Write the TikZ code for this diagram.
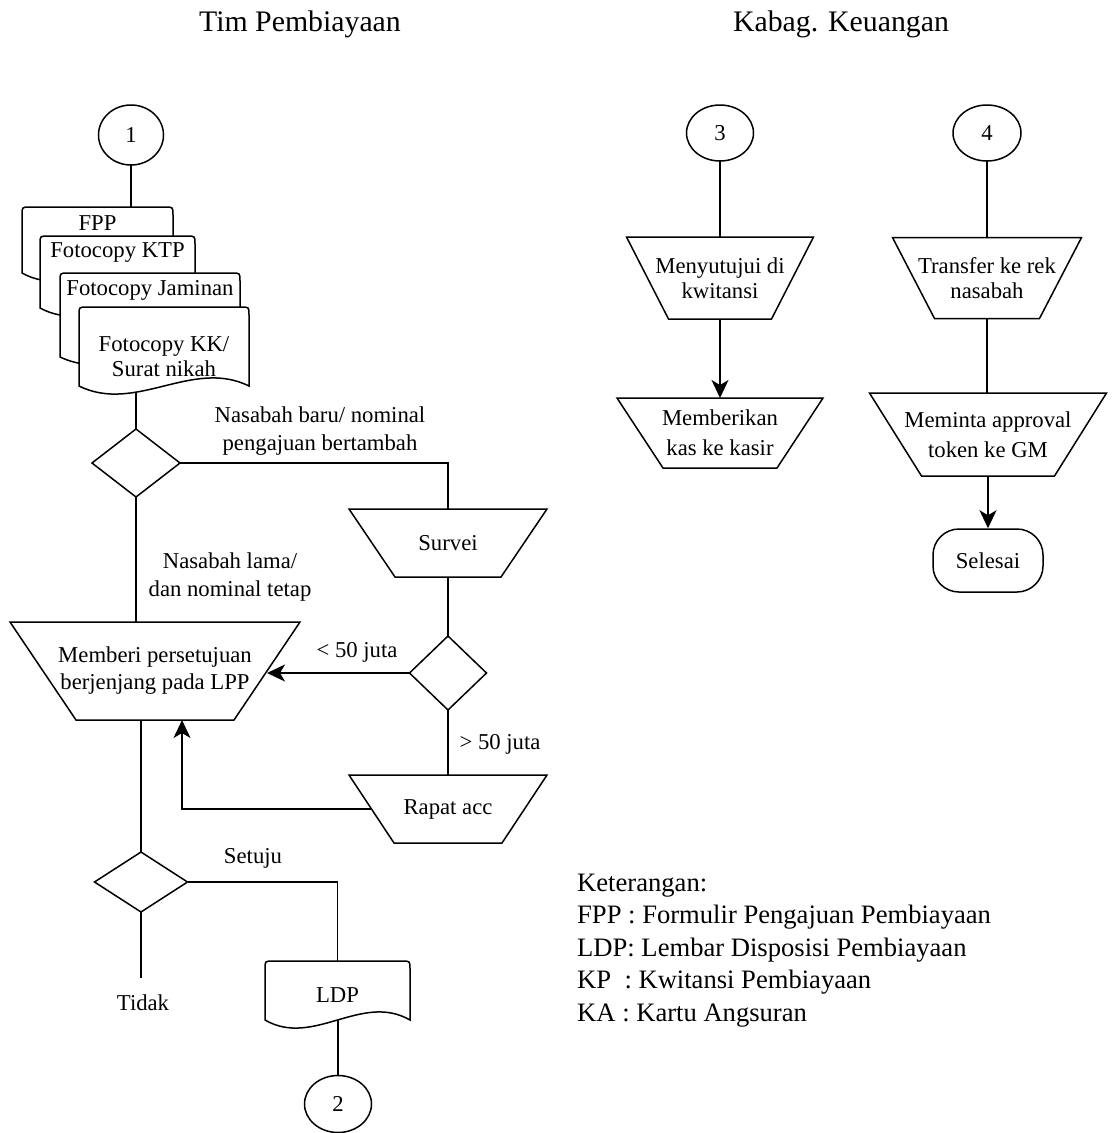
\documentclass[tikz,border=0pt]{standalone}
\usepackage{fontspec}
\setmainfont{Liberation Serif}
\usetikzlibrary{shapes.geometric,calc,arrows.meta}

\tikzset{
  shapeline/.style={draw=black, line width=1.5pt, line join=miter},
  conn/.style={draw=black, line width=1.5pt},
  arr/.style={conn, -{Stealth[length=18pt,width=17pt,inset=5pt]}},
  txt/.style={font=\fontsize{22.7pt}{27pt}\selectfont, align=center, inner sep=0pt},
  frame/.style={rectangle, draw=none, inner sep=0pt, outer sep=0pt},
  ttl/.style={font=\fontsize{29.8pt}{36pt}\selectfont, inner sep=0pt},
  leg/.style={font=\fontsize{26.6pt}{32pt}\selectfont, inner sep=0pt, anchor=base west},
  dec/.style={diamond, shapeline, inner sep=0pt, outer sep=0pt},
  con/.style={ellipse, shapeline, inner sep=0pt, outer sep=0pt, txt},
}

% wide-top trapezoid drawn round a frame node; #2 = inset of the bottom corners
\newcommand\trapoutline[2]{%
  \draw[shapeline] (#1.north west) -- (#1.north east)
    -- ([xshift=-#2]#1.south east) -- ([xshift=#2]#1.south west) -- cycle;}

% document symbol: rounded top corners, wavy bottom edge
\newcommand\docoutline[1]{%
  \draw[shapeline, fill=white] (#1.south west) -- ([yshift=-8pt]#1.north west)
    .. controls (#1.north west) .. ([xshift=8pt]#1.north west)
    -- ([xshift=-8pt]#1.north east)
    .. controls (#1.north east) .. ([yshift=-8pt]#1.north east)
    -- (#1.south east)
    .. controls ($(#1.south east)!.333!(#1.south west)+(0,-28)$)
            and ($(#1.south east)!.667!(#1.south west)+(0,28)$) .. (#1.south west)
    -- cycle;}

\begin{document}
\begin{tikzpicture}[x=1pt,y=-1pt]
\useasboundingbox (0,0) rectangle (1112,1133);

% lane titles
\node[ttl, anchor=base] (title-tim) at (300,31) {Tim Pembiayaan};
\node[ttl, anchor=base] (title-kabag) at (841,31) {Kabag. Keuangan};

% ---------- Tim Pembiayaan ----------
\node[con, minimum width=65pt, minimum height=60pt] (c1) at (131,135) {1};

\node[frame, minimum width=151pt, minimum height=66pt] (doc1) at (97.5,240) {};
\node[frame, minimum width=155pt, minimum height=72pt] (doc2) at (117.5,272) {};
\node[frame, minimum width=180pt, minimum height=84pt] (doc3) at (150,315) {};
\node[frame, minimum width=170pt, minimum height=79pt] (doc4) at (164,346.5) {};

\node[dec, minimum width=88pt, minimum height=68pt] (dia1) at (136,463) {};

\node[frame, txt, minimum width=290pt, minimum height=98pt] (memberi) at (155,671)
  {Memberi persetujuan\\berjenjang pada LPP};
\trapoutline{memberi}{66pt}
\coordinate (memberi-e) at ($(memberi.north east)!.5!([xshift=-66pt]memberi.south east)$);

\node[frame, txt, minimum width=198pt, minimum height=68pt] (survei) at (448,543) {Survei};
\trapoutline{survei}{46pt}

\node[dec, minimum width=77pt, minimum height=74pt] (dia2) at (448,673) {};

\node[frame, txt, minimum width=198pt, minimum height=68pt] (rapat) at (448,809) {Rapat acc};
\trapoutline{rapat}{45pt}
\coordinate (rapat-w) at ($(rapat.north west)!.5!([xshift=45pt]rapat.south west)$);

\node[dec, minimum width=93pt, minimum height=60pt] (dia3) at (141,882) {};

\node[frame, minimum width=145pt, minimum height=59pt] (ldp) at (337.5,990.5) {};
\coordinate (tidak-end) at (141,978);

\node[con, minimum width=67pt, minimum height=57pt] (c2) at (338,1104) {2};

% connectors (the document symbols are drawn on top of them)
\draw[conn] (c1.south) -- (c1.south |- doc1.north);
\draw[conn] (dia1.north) -- (dia1.north |- doc4.center);
\draw[conn] (dia1.south) -- (dia1.south |- memberi.north);
\draw[conn] (dia1.east) -| (survei.north);
\draw[conn] (survei.south) -- (dia2.north);
\draw[arr] (dia2.west) -- (dia2.west -| memberi-e);
\draw[conn] (dia2.south) -- (rapat.north);
\draw[arr] (rapat-w) -| ([xshift=27pt]memberi.south);
\draw[conn] (memberi.south -| dia3.north) -- (dia3.north);
\draw[conn] (dia3.east) -| (ldp.north);
\draw[conn] (dia3.south) -- (tidak-end);
\draw[conn] (c2.north) -- (c2.north |- ldp.center);

% stacked documents
\docoutline{doc1}
\node[txt] (doc1-text) at ([yshift=-16pt]doc1.north) {FPP};
\docoutline{doc2}
\node[txt] (doc2-text) at ([yshift=-17pt]doc2.north) {Fotocopy KTP};
\docoutline{doc3}
\node[txt] (doc3-text) at ([yshift=-17pt]doc3.north) {Fotocopy Jaminan};
\docoutline{doc4}
\node[txt, font=\fontsize{22.7pt}{25pt}\selectfont] (doc4-text) at ([yshift=-50pt]doc4.north)
  {Fotocopy KK/\\Surat nikah};
\docoutline{ldp}
\node[txt] (ldp-text) at ([yshift=-34pt]ldp.north) {LDP};

% branch labels
\node[txt, font=\fontsize{22.7pt}{28pt}\selectfont] (lbl-baru) at (320,431)
  {Nasabah baru/ nominal\\pengajuan bertambah};
\node[txt, font=\fontsize{22.7pt}{28pt}\selectfont] (lbl-lama) at (230,577)
  {Nasabah lama/\\dan nominal tetap};
\node[txt] (lbl-kurang) at (357,652) {< 50 juta};
\node[txt] (lbl-lebih) at (500,744) {> 50 juta};
\node[txt] (lbl-setuju) at (253,858) {Setuju};
\node[txt] (lbl-tidak) at (143,1003) {Tidak};

% ---------- Kabag. Keuangan ----------
\node[con, minimum width=67pt, minimum height=56pt] (c3) at (720,133) {3};
\node[frame, txt, font=\fontsize{22.7pt}{25pt}\selectfont, minimum width=187pt, minimum height=82pt]
  (menyutujui) at (720,278) {Menyutujui di\\kwitansi};
\trapoutline{menyutujui}{42pt}
\node[frame, txt, font=\fontsize{22.7pt}{30pt}\selectfont, minimum width=206pt, minimum height=70pt]
  (memberikan) at (720,433) {Memberikan\\kas ke kasir};
\trapoutline{memberikan}{46pt}

\node[con, minimum width=68pt, minimum height=56pt] (c4) at (987,133) {4};
\node[frame, txt, font=\fontsize{22.7pt}{25pt}\selectfont, minimum width=189pt, minimum height=81pt]
  (transfer) at (987,278) {Transfer ke rek\\nasabah};
\trapoutline{transfer}{42pt}
\node[frame, txt, font=\fontsize{22.7pt}{30pt}\selectfont, minimum width=237pt, minimum height=83pt]
  (meminta) at (988,434.5) {Meminta approval\\token ke GM};
\trapoutline{meminta}{52pt}
\node[shapeline, rectangle, rounded corners=26pt, txt, minimum width=110pt, minimum height=63pt]
  (selesai) at (988,560.5) {Selesai};

\draw[conn] (c3.south) -- (menyutujui.north);
\draw[arr] (menyutujui.south) -- (memberikan.north);
\draw[conn] (c4.south) -- (transfer.north);
\draw[conn] (transfer.south) -- (transfer.south |- meminta.north);
\draw[arr] (meminta.south) -- (selesai.north);

% legend
\node[leg] (leg0) at (577,891) {Keterangan:};
\node[leg] (leg1) at (577,923.5) {FPP : Formulir Pengajuan Pembiayaan};
\node[leg] (leg2) at (577,956) {LDP: Lembar Disposisi Pembiayaan};
\node[leg] (leg3) at (577,988.5) {KP\ \ : Kwitansi Pembiayaan};
\node[leg] (leg4) at (577,1021) {KA : Kartu Angsuran};
\end{tikzpicture}
\end{document}
